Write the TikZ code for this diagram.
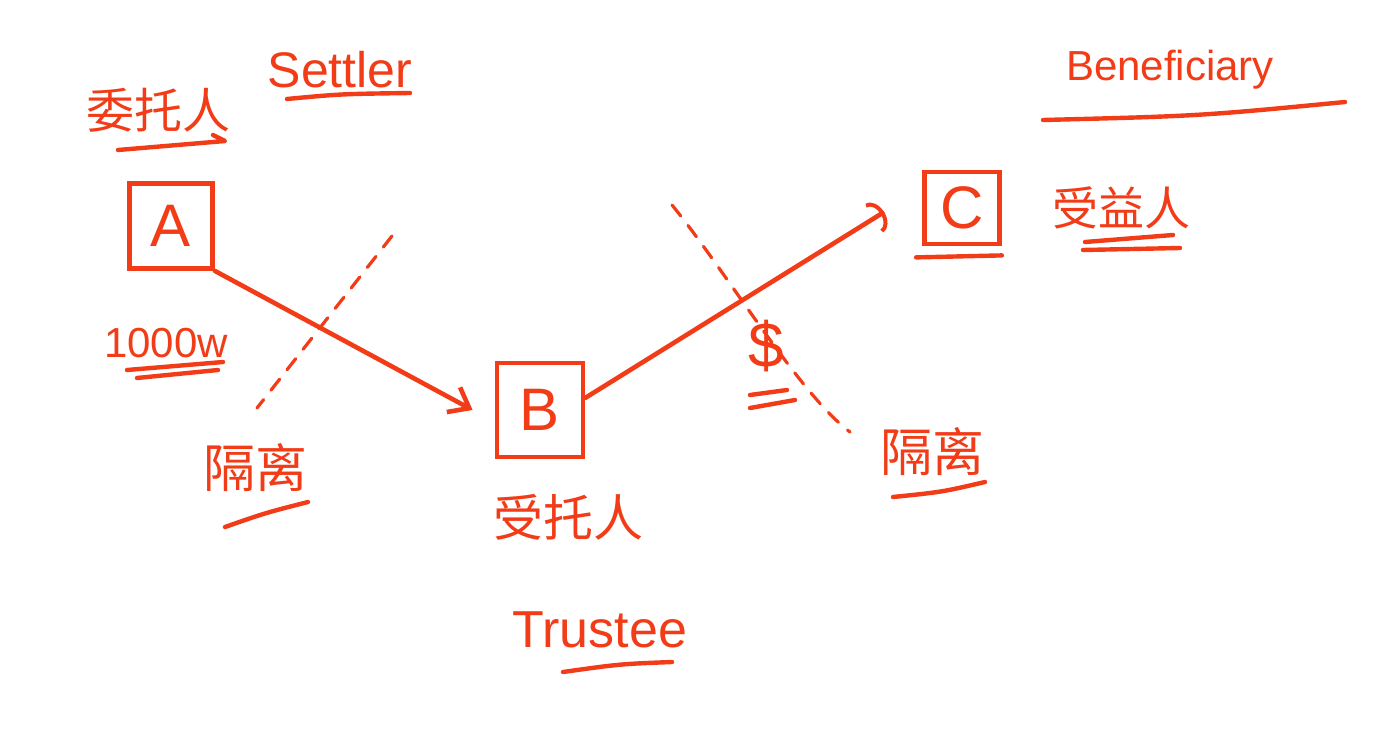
\documentclass[tikz,border=0pt]{standalone}
\usepackage{fontspec}
\setmainfont{Liberation Sans}
\newfontfamily\cjk{Noto Sans CJK SC}
\usetikzlibrary{arrows.meta,calc}
\definecolor{ink}{RGB}{242,60,24}
\begin{document}
\begin{tikzpicture}[x=0.5pt,y=-0.5pt,
  every node/.style={text=ink, inner sep=0pt},
  party/.style={draw=ink, line width=2.4pt, font=\fontsize{30}{30}\selectfont},
  flow/.style={draw=ink, line width=2.3pt, line cap=round},
  barrier/.style={draw=ink, line width=1.6pt, dash pattern=on 7pt off 6pt, line cap=round},
  ul/.style={draw=ink, line width=2.2pt, line cap=round, line join=round},
  zh/.style={font=\cjk\fontsize{24}{24}\selectfont},
  zhbig/.style={font=\cjk\fontsize{26}{26}\selectfont},
  en/.style={font=\fontsize{22}{22}\selectfont},
]
\useasboundingbox (0,0) rectangle (1381,728);
\fill[white] (0,0) rectangle (1381,728);

% the three parties of the trust
\node[party, minimum width=41.5pt, minimum height=42.5pt] (A) at (171,226) {A};
\node[party, minimum width=43pt, minimum height=47pt] (B) at (540,410) {B};
\node[party, minimum width=37.5pt, minimum height=36pt] (C) at (962,208) {C};
\draw[ul] ($(C.south west)+(-6,11)$) -- ($(C.south east)+(0,9)$);

% transfers of the property
\draw[flow, -{Straight Barb[length=9pt,width=14pt,line width=2.3pt]}]
  (A.south east) -- ([xshift=-11pt]B.west);
\draw[flow, -{Arc Barb[length=6pt,width=17pt,line width=2pt]}]
  (B.15) -- ([xshift=-19pt,yshift=-2pt]C.west);

% isolation lines
\coordinate (d1a) at (392,236);
\coordinate (d1b) at (257,408);
\draw[barrier] (d1a) -- (d1b);
\coordinate (d2a) at (672,205);
\coordinate (d2b) at (850,432);
\draw[barrier] (d2a) .. controls (725,270) and (800,395) .. (d2b);

% settlor labels
\node[zh] (settlorZh) at (158,110) {委托人};
\draw[ul] ($(settlorZh)+(-40,40)$) -- ($(settlorZh)+(67,31)$) -- ($(settlorZh)+(55,25)$);
\node[en, font=\fontsize{25}{25}\selectfont] (settlorEn) at (340,70) {Settler};
\draw[ul] ($(settlorEn)+(-53,29)$) .. controls ($(settlorEn)+(0,24)$) .. ($(settlorEn)+(70,23)$);
\node[en, font=\fontsize{21}{21}\selectfont] (amount) at (166,343) {1000w};
\draw[ul] ($(amount)+(-39,27)$) -- ($(amount)+(57,19)$);
\draw[ul] ($(amount)+(-29,35)$) -- ($(amount)+(52,27)$);

% left isolation label
\node[zhbig] (isoL) at (255,468) {隔离};
\draw[ul] ($(isoL)+(-30,59)$) .. controls ($(isoL)+(10,45)$) .. ($(isoL)+(53,34)$);

% trustee labels
\node[zh, font=\cjk\fontsize{25}{25}\selectfont] (trusteeZh) at (568,517) {受托人};
\node[en, font=\fontsize{26}{26}\selectfont] (trusteeEn) at (600,630) {Trustee};
\draw[ul] ($(trusteeEn)+(-37,42)$) .. controls ($(trusteeEn)+(20,34)$) .. ($(trusteeEn)+(72,32)$);

% money passing to the beneficiary
\node[font=\fontsize{32}{32}\selectfont, text=ink] (money) at (766,346) {\$};
\draw[ul] ($(money)+(-16,49)$) -- ($(money)+(21,44)$);
\draw[ul] ($(money)+(-16,62)$) -- ($(money)+(29,54)$);

% right isolation label
\node[zhbig] (isoR) at (932,452) {隔离};
\draw[ul] ($(isoR)+(-39,45)$) .. controls ($(isoR)+(10,40)$) .. ($(isoR)+(53,30)$);

% beneficiary labels
\node[zh, font=\cjk\fontsize{23}{23}\selectfont] (benZh) at (1121,208) {受益人};
\draw[ul] ($(benZh)+(-36,34)$) -- ($(benZh)+(52,27)$);
\draw[ul] ($(benZh)+(-38,42)$) -- ($(benZh)+(59,40)$);
\node[en, font=\fontsize{21}{21}\selectfont] (benEn) at (1170,70) {Beneficiary};
\draw[ul] ($(benEn)+(-127,50)$) .. controls ($(benEn)+(30,46)$) .. ($(benEn)+(175,32)$);
\end{tikzpicture}
\end{document}
